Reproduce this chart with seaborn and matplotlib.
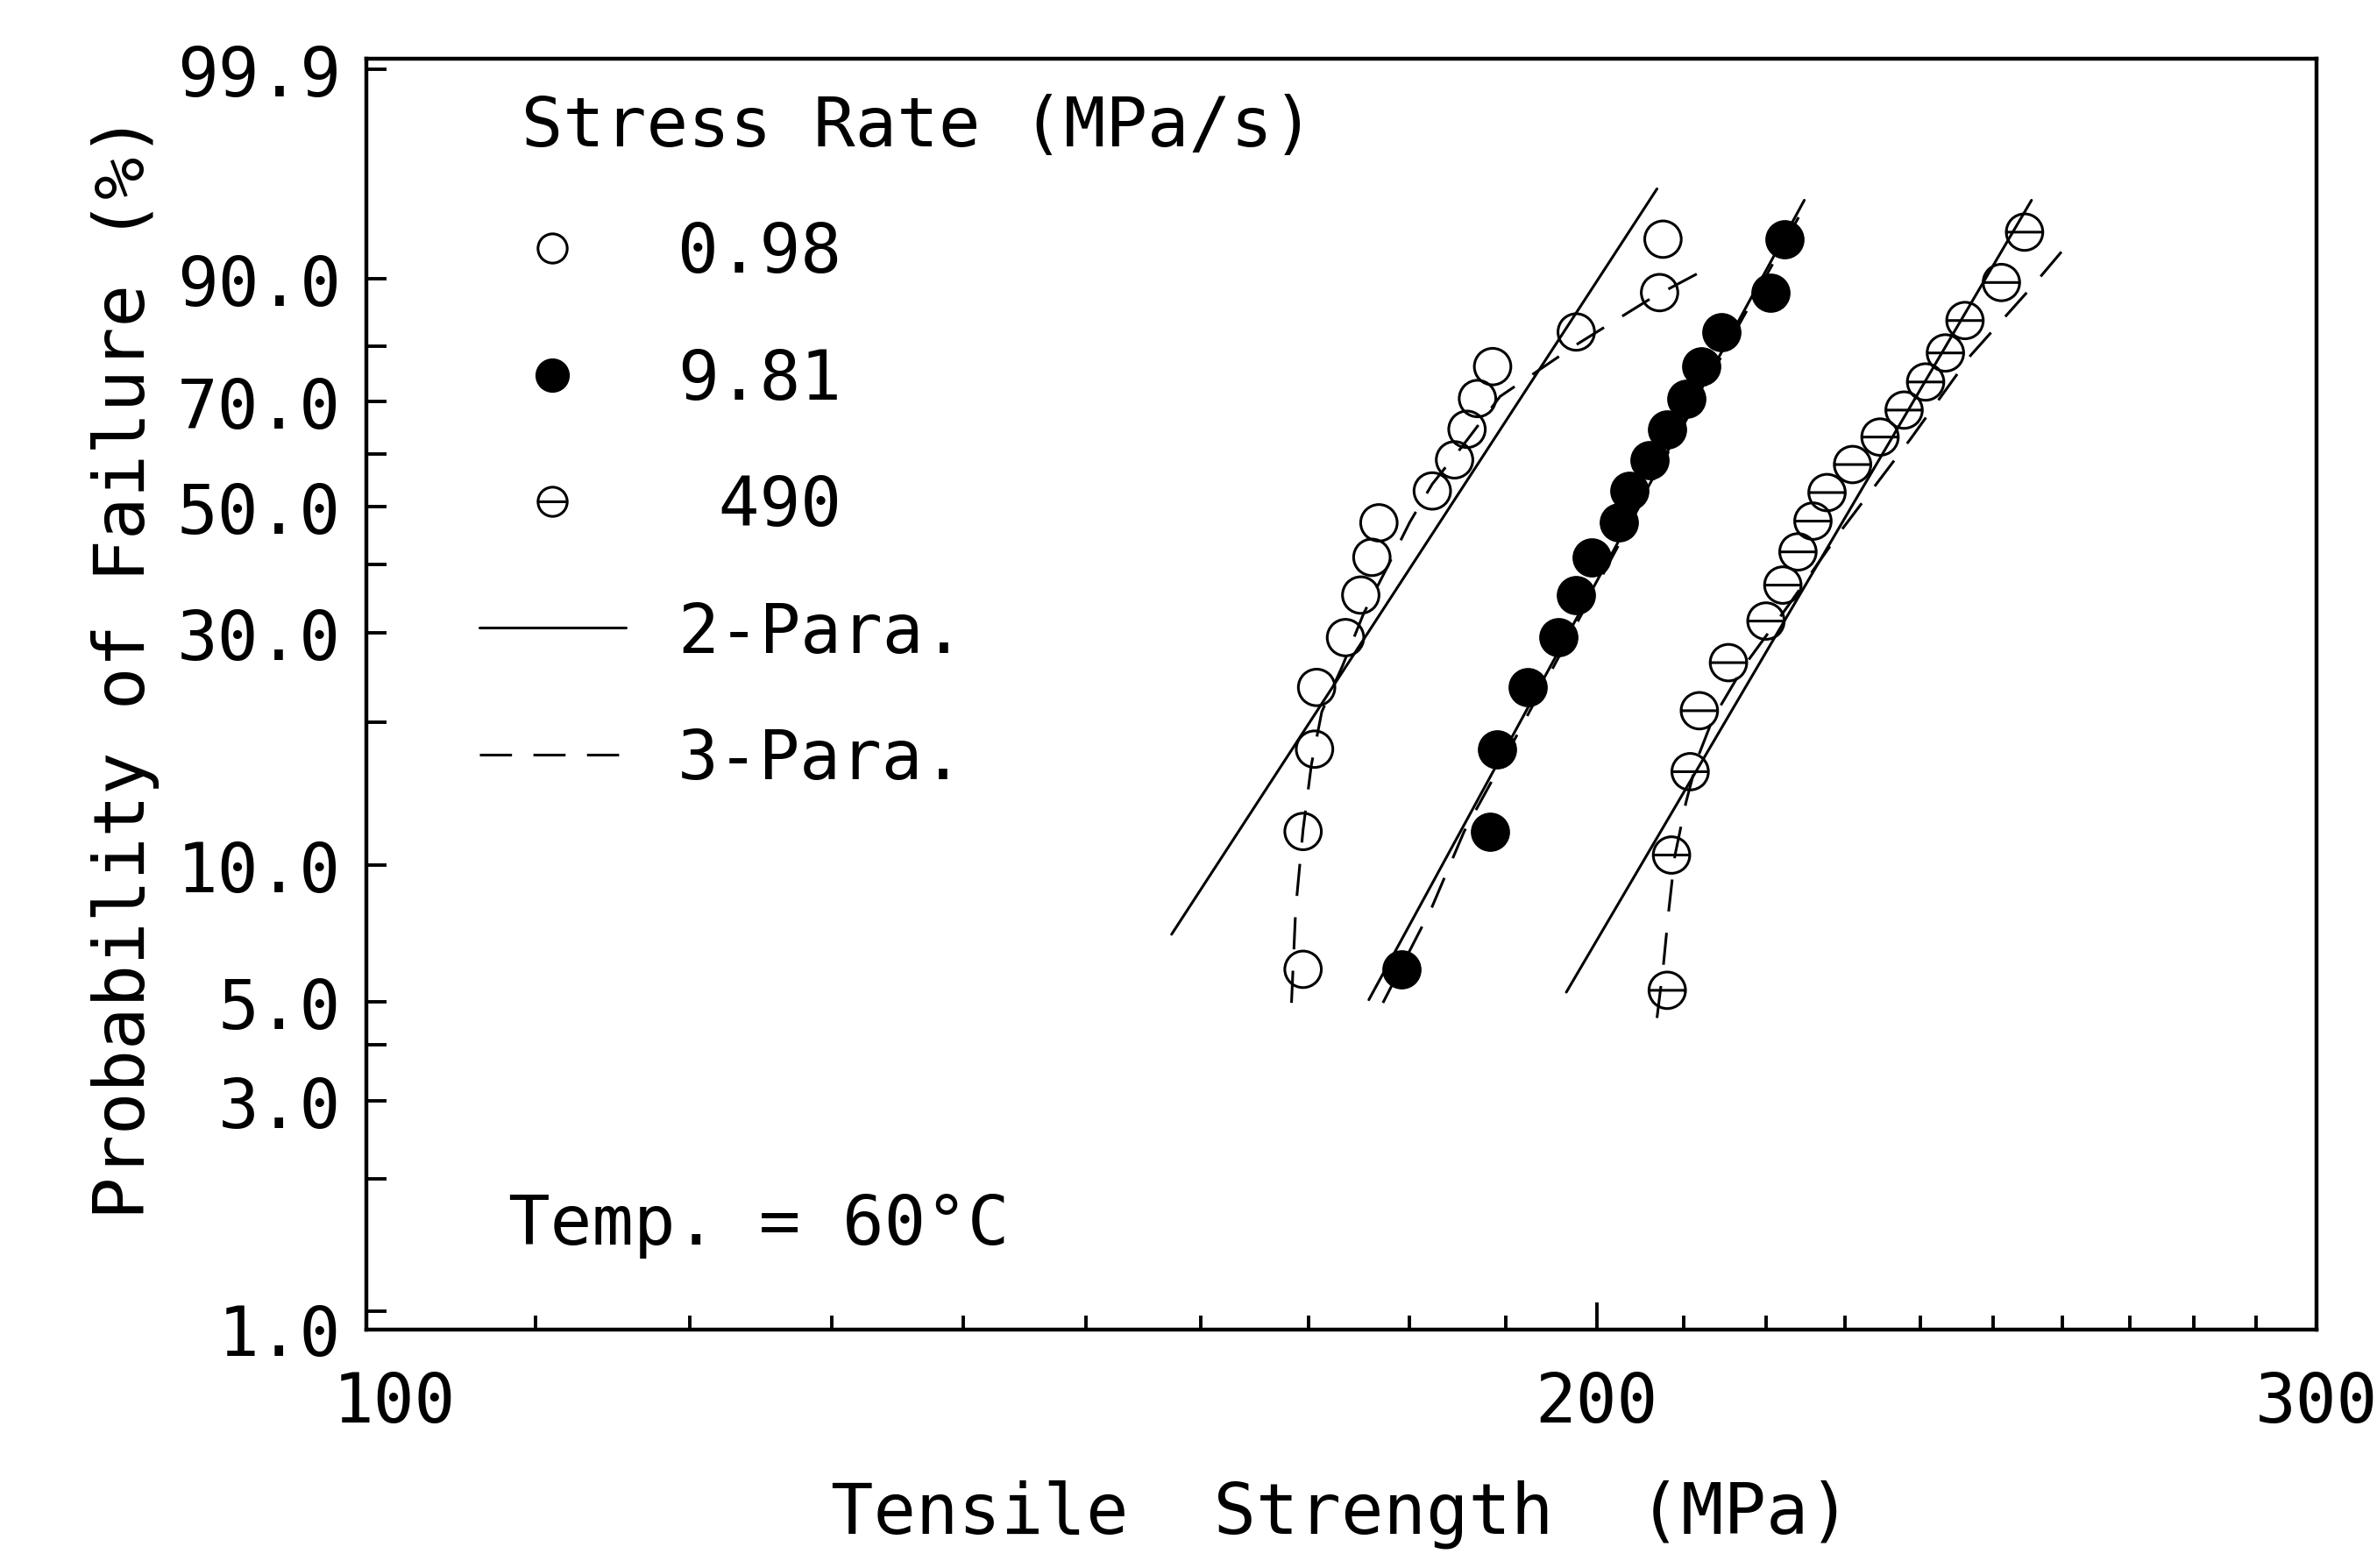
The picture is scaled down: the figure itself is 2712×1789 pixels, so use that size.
import numpy as np
import pandas as pd
import matplotlib
matplotlib.use("Agg")
import matplotlib.pyplot as plt
import seaborn as sns
from matplotlib.path import Path
from matplotlib.lines import Line2D
from matplotlib.ticker import FixedLocator, NullFormatter, FixedFormatter
from matplotlib.transforms import ScaledTranslation

# ---------------- data ----------------
rate_labels = ["0.98", "9.81", " 490"]
fit_labels = ["2-Para.", "3-Para."]

# 0.98 MPa/s  (open circles)
s1_strength = [169.5, 169.5, 170.6, 170.8, 173.6, 175.1, 176.2, 176.9,
               182.3, 184.6, 185.9, 187.0, 188.6, 197.7, 207.2, 207.6]
s1_prob = [5.9, 11.8, 17.6, 23.5, 29.4, 35.3, 41.2, 47.1,
           52.9, 58.8, 64.7, 70.6, 76.5, 82.4, 88.2, 94.1]
# 9.81 MPa/s  (filled circles)
s2_strength = [179.2, 188.3, 189.1, 192.4, 195.7, 197.7, 199.4, 202.5,
               203.7, 206.0, 208.1, 210.3, 212.1, 214.5, 220.6, 222.3]
s2_prob = [5.9, 11.8, 17.6, 23.5, 29.4, 35.3, 41.2, 47.1,
           52.9, 58.8, 64.7, 70.6, 76.5, 82.4, 88.2, 94.1]
# 490 MPa/s  (barred circles)
s3_strength = [208.1, 208.6, 210.8, 211.9, 215.4, 220.0, 222.1, 224.0, 225.9,
               227.7, 231.0, 234.6, 237.8, 240.7, 243.4, 246.1, 251.2, 254.5]
s3_prob = [5.3, 10.5, 15.8, 21.1, 26.3, 31.6, 36.8, 42.1, 47.4,
           52.6, 57.9, 63.2, 68.4, 73.7, 78.9, 84.2, 89.5, 94.7]

# fitted lines (2-parameter: solid, 3-parameter: dashed)
s1_2p_strength = [157.4, 206.9]
s1_2p_prob = [7.05, 97.5]
s1_3p_strength = [168.4, 168.8, 169.5, 170.3, 171.3, 173.3, 175.4, 177.7,
                  180.0, 182.3, 185.4, 189.4, 197.7, 206.3, 213.3]
s1_3p_prob = [4.97, 8.03, 11.9, 16.35, 21.0, 25.9, 32.7, 39.5,
              47.2, 54.2, 61.4, 71.0, 80.3, 87.5, 91.4]
s2_2p_strength = [175.9, 224.8]
s2_2p_prob = [5.05, 96.9]
s2_3p_strength = [177.3, 182.2, 185.6, 190.8, 208.1, 224.8]
s2_3p_prob = [4.97, 8.03, 11.8, 18.2, 59.9, 96.5]
s3_2p_strength = [196.6, 255.5]
s3_2p_prob = [5.25, 96.9]
s3_3p_strength = [206.9, 207.6, 208.3, 209.0, 210.3, 211.7, 213.5, 217.3,
                  222.8, 229.6, 238.7, 246.9, 255.5, 261.7]
s3_3p_prob = [4.60, 5.90, 8.03, 10.47, 13.6, 16.9, 20.3, 25.9,
              33.8, 45.9, 62.9, 78.5, 88.9, 94.3]

y_major = [1.0, 3.0, 5.0, 10.0, 30.0, 50.0, 70.0, 90.0, 99.9]
y_major_labels = ["1.0", "3.0", "5.0", "10.0", "30.0", "50.0", "70.0", "90.0", "99.9"]
y_minor = [2.0, 4.0, 20.0, 40.0, 60.0, 80.0]
x_major = [100, 200, 300]
x_major_labels = ["100", "200", "300"]
x_minor = [110, 120, 130, 140, 150, 160, 170, 180, 190,
           210, 220, 230, 240, 250, 260, 270, 280, 290]

# ---------------- style ----------------
sns.set_style("white")
plt.rcParams["font.family"] = ["DejaVu Sans Mono", "DejaVu Sans"]
plt.rcParams["axes.edgecolor"] = "black"
plt.rcParams["axes.linewidth"] = 1.6
plt.rcParams["text.color"] = "black"
plt.rcParams["axes.labelcolor"] = "black"
plt.rcParams["xtick.color"] = "black"
plt.rcParams["ytick.color"] = "black"

DPI = 200
fig = plt.figure(figsize=(2712 / DPI, 1790 / DPI), dpi=DPI)
ax = fig.add_axes([418 / 2712, 1 - 1517.5 / 1790, 2225 / 2712, 1449.8 / 1790])


def weib_fwd(p):
    p = np.clip(np.asarray(p, dtype=float), 1e-6, 100 - 1e-6)
    return np.log(-np.log(1 - p / 100.0))


def weib_inv(w):
    return 100.0 * (1 - np.exp(-np.exp(np.asarray(w, dtype=float))))


ax.set_xscale("log")
ax.set_yscale("function", functions=(weib_fwd, weib_inv))

LW = 1.1
DASH = (0, (12, 8))
line_kw = dict(color="black", linewidth=LW, sort=False, estimator=None, legend=False, ax=ax)

for xs, ys in [(s1_2p_strength, s1_2p_prob), (s2_2p_strength, s2_2p_prob),
               (s3_2p_strength, s3_2p_prob)]:
    sns.lineplot(x=xs, y=ys, linestyle="-", **line_kw)
for xs, ys in [(s1_3p_strength, s1_3p_prob), (s2_3p_strength, s2_3p_prob),
               (s3_3p_strength, s3_3p_prob)]:
    sns.lineplot(x=xs, y=ys, linestyle=DASH, **line_kw)

theta = Path.make_compound_path(
    Path.unit_circle(),
    Path([[-1.0, 0.0], [1.0, 0.0]], [Path.MOVETO, Path.LINETO]),
)

MS = 15.0
sns.scatterplot(x=s1_strength, y=s1_prob, ax=ax, marker="o", s=MS ** 2,
                facecolors="none", edgecolors="black", linewidth=LW, legend=False, zorder=3)
sns.scatterplot(x=s2_strength, y=s2_prob, ax=ax, marker="o", s=MS ** 2,
                color="black", edgecolors="black", linewidth=LW, legend=False, zorder=3)
sns.scatterplot(x=s3_strength, y=s3_prob, ax=ax, marker=theta, s=MS ** 2,
                facecolors="none", edgecolors="black", linewidth=LW, legend=False, zorder=3)

# ---------------- axes ----------------
ax.set_xlim(100, 300)
ax.set_ylim(0.912, 99.934)

ax.yaxis.set_major_locator(FixedLocator(y_major))
ax.yaxis.set_major_formatter(FixedFormatter(y_major_labels))
ax.yaxis.set_minor_locator(FixedLocator(y_minor))
ax.yaxis.set_minor_formatter(NullFormatter())
ax.xaxis.set_major_locator(FixedLocator(x_major))
ax.xaxis.set_major_formatter(FixedFormatter(x_major_labels))
ax.xaxis.set_minor_locator(FixedLocator(x_minor))
ax.xaxis.set_minor_formatter(NullFormatter())

ax.tick_params(axis="both", which="both", direction="in", top=False, right=False,
               bottom=True, left=True, color="black", width=1.4, labelcolor="black")
ax.tick_params(axis="y", which="both", length=8.3, pad=10.5, labelsize=28)
ax.tick_params(axis="x", which="major", length=11, pad=16.5, labelsize=28)
ax.tick_params(axis="x", which="minor", length=5.8)

for sp in ax.spines.values():
    sp.set_visible(True)
    sp.set_linewidth(1.6)
    sp.set_color("black")

ax.set_xlabel("Tensile  Strength  (MPa)", fontsize=29, color="black")
ax.set_ylabel("Probability of Failure (%)", fontsize=29, color="black")
ax.xaxis.set_label_coords(0.5, -0.118)
ax.yaxis.set_label_coords(-0.106, 0.522)

# shift corner labels as in the original
fig.canvas.draw()
xt = ax.xaxis.get_major_ticks()
xt[0].label1.set_transform(xt[0].label1.get_transform()
                           + ScaledTranslation(32 / DPI, 0, fig.dpi_scale_trans))
yt = ax.yaxis.get_major_ticks()
yt[0].label1.set_transform(yt[0].label1.get_transform()
                           + ScaledTranslation(0, -20 / DPI, fig.dpi_scale_trans))

# ---------------- legend ----------------
handles = [
    Line2D([], [], linestyle="none", marker="o", markersize=12, markerfacecolor="none",
           markeredgecolor="black", markeredgewidth=LW),
    Line2D([], [], linestyle="none", marker="o", markersize=13, markerfacecolor="black",
           markeredgecolor="black", markeredgewidth=LW),
    Line2D([], [], linestyle="none", marker=theta, markersize=12, markerfacecolor="none",
           markeredgecolor="black", markeredgewidth=LW),
    Line2D([], [], color="black", linewidth=LW, linestyle="-"),
    Line2D([], [], color="black", linewidth=LW, linestyle=DASH),
]
leg = ax.legend(handles, rate_labels + fit_labels, title=" Stress Rate (MPa/s)",
                loc="upper left", bbox_to_anchor=(0.0578, 0.973), frameon=False,
                fontsize=28, title_fontsize=28.5, alignment="left",
                handlelength=2.15, handletextpad=0.76, labelspacing=0.88,
                borderpad=0, borderaxespad=0, labelcolor="black")
leg.get_title().set_color("black")

ax.text(0.0728, 0.0824, "Temp. = 60°C", transform=ax.transAxes, fontsize=28.5,
        ha="left", va="center", color="black")

fig.savefig("out.png", dpi=DPI, facecolor="white")
